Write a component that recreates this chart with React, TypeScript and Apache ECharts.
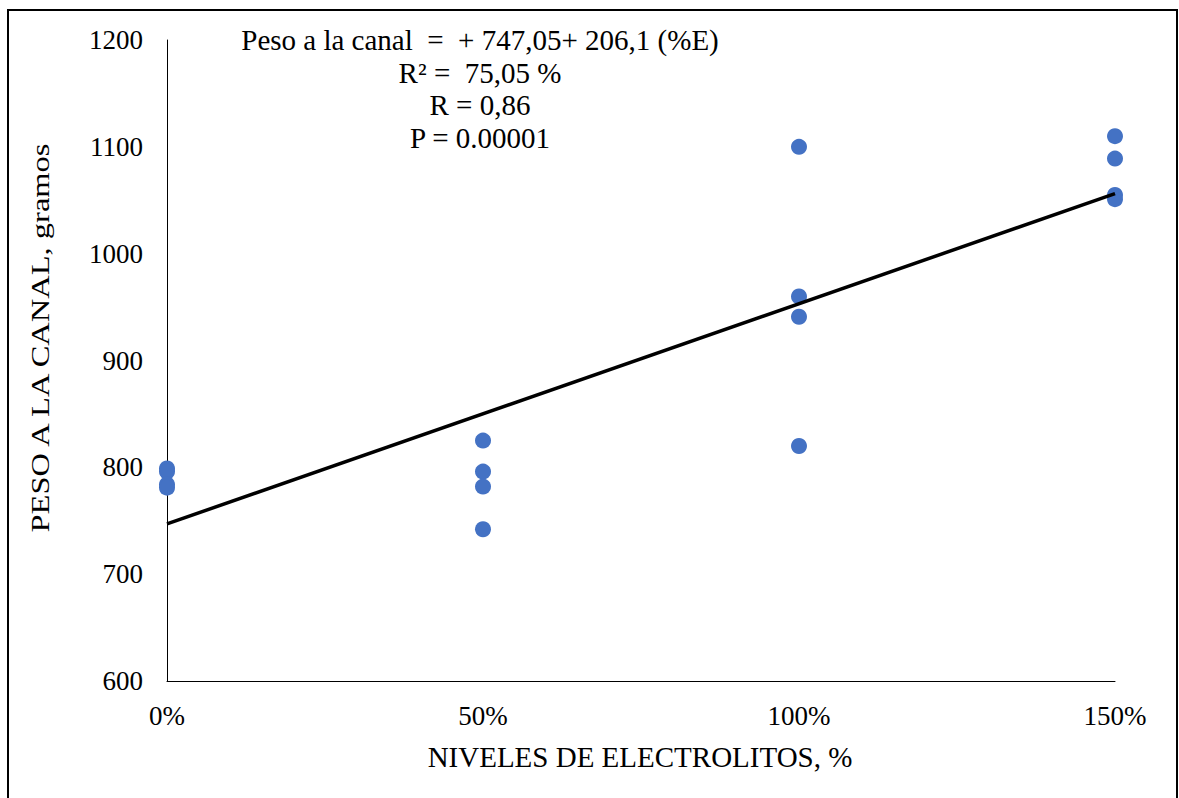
import React, { useEffect, useRef } from "react";
import * as echarts from "echarts";

const levels = [0, 50, 100, 150];
const weights0 = [799, 796, 784, 781];
const weights50 = [825, 796, 782, 742];
const weights100 = [1100, 960, 941, 820];
const weights150 = [1110, 1089, 1055, 1051];
const trendX = [0, 150];
const trendY = [747.05, 1056.2];
const yTicks = [600, 700, 800, 900, 1000, 1100, 1200];
const annotation = [
  "Peso a la canal  =  + 747,05+ 206,1 (%E)",
  "R² =  75,05 %",
  "R = 0,86",
  "P = 0.00001",
];
const yTitle = "PESO A LA CANAL, gramos";
const xTitle = "NIVELES DE ELECTROLITOS, %";

const FONT = "'Liberation Serif', 'Times New Roman', serif";

export default function App() {
  const ref = useRef<HTMLDivElement>(null);
  useEffect(() => {
    if (!ref.current) return;
    const chart = echarts.init(ref.current, null, { renderer: "svg" });
    const groups = [weights0, weights50, weights100, weights150];
    const points: number[][] = [];
    groups.forEach((g, i) => g.forEach((v) => points.push([levels[i], v])));
    const annotationY = [40, 73, 105, 138];
    chart.setOption({
      animation: false,
      backgroundColor: "#fff",
      grid: { left: 167, right: 64, top: 40, bottom: 117 },
      xAxis: {
        type: "value",
        min: 0,
        max: 150,
        interval: 50,
        axisLine: { show: true, lineStyle: { color: "#000", width: 1 } },
        axisTick: { show: false },
        splitLine: { show: false },
        axisLabel: {
          formatter: (v: number) => v + "%",
          color: "#000",
          fontFamily: FONT,
          fontSize: 27,
          margin: 21,
        },
      },
      yAxis: {
        type: "value",
        min: yTicks[0],
        max: yTicks[yTicks.length - 1],
        interval: 100,
        axisLine: { show: true, lineStyle: { color: "#000", width: 1 } },
        axisTick: { show: false },
        splitLine: { show: false },
        axisLabel: {
          formatter: (v: number) => String(v),
          color: "#000",
          fontFamily: FONT,
          fontSize: 27,
          margin: 24,
        },
      },
      series: [
        {
          type: "scatter",
          data: points,
          symbolSize: 16,
          itemStyle: { color: "#4472C4", opacity: 1 },
          z: 3,
        },
        {
          type: "line",
          data: trendX.map((x, i) => [x, trendY[i]]),
          showSymbol: false,
          symbol: "none",
          lineStyle: { color: "#000", width: 3.5 },
          z: 4,
        },
      ],
      graphic: [
        {
          type: "rect",
          shape: { x: 8, y: 10, width: 1169, height: 820 },
          style: { fill: "none", stroke: "#000", lineWidth: 2 },
          silent: true,
        },
        ...annotation.map((t, i) => ({
          type: "text",
          x: 480,
          y: annotationY[i],
          style: {
            text: t,
            fill: "#000",
            font: `29px ${FONT}`,
            textAlign: "center",
            textVerticalAlign: "middle",
          },
        })),
        {
          type: "text",
          x: 40,
          y: 338,
          rotation: Math.PI / 2,
          scaleX: 1.25,
          style: {
            text: yTitle,
            fill: "#000",
            font: `26px ${FONT}`,
            textAlign: "center",
            textVerticalAlign: "middle",
          },
        },
        {
          type: "text",
          x: 640,
          y: 757,
          style: {
            text: xTitle,
            fill: "#000",
            font: `29px ${FONT}`,
            textAlign: "center",
            textVerticalAlign: "middle",
          },
        },
      ],
    });
    return () => chart.dispose();
  }, []);
  return (
    <div
      ref={ref}
      style={{ position: "fixed", left: 0, top: 0, width: 1179, height: 798 }}
    />
  );
}
